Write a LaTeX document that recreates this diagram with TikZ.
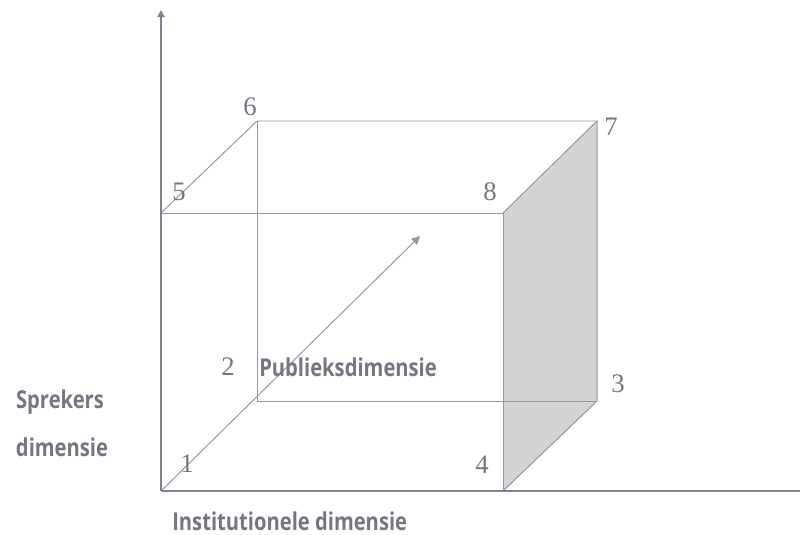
\documentclass[tikz,border=0pt]{standalone}
\usepackage{fontspec}
\setmainfont{Liberation Serif}
\newfontfamily\dimfont{Open Sans}[FakeStretch=0.82]
\usetikzlibrary{arrows.meta}
\definecolor{axisgray}{RGB}{128,128,142}
\definecolor{edgegray}{RGB}{150,150,162}
\definecolor{facegray}{RGB}{212,212,212}
\definecolor{textgray}{RGB}{118,118,130}

\begin{document}
\begin{tikzpicture}[x=0.025cm, y=-0.025cm]
    \useasboundingbox (0,0) rectangle (800,534);
    \tikzset{
        edge/.style={edgegray, line width=0.7pt},
        axis/.style={axisgray, line width=1.3pt},
        corner/.style={text=textgray, font=\fontsize{19}{19}\selectfont, inner sep=0pt, anchor=base},
        dimlabel/.style={text=textgray, font=\dimfont\bfseries\fontsize{17.5}{17.5}\selectfont, inner sep=0pt, anchor=base},
    }

    % corners of the block
    \foreach \k/\x/\y in {1/161/491, 2/257/401, 3/597/401, 4/503/491,
                          5/161/213, 6/257/121, 7/597/121, 8/503/213}
        \coordinate (c\k) at (\x,\y);
    \coordinate (ytop) at (161,10);
    \coordinate (xend) at (800,491);
    \coordinate (ptip) at (420,236);

    % shaded side
    \fill[facegray] (c8) -- (c7) -- (c3) -- (c4) -- cycle;

    \draw[edge] (c5) -- (c8) -- (c4);
    \draw[edge] (c5) -- (c6) -- (c7) -- (c8);
    \draw[edge] (c7) -- (c3) -- (c4);
    \draw[edge] (c6) -- (c2) -- (c3);
    \draw[edge, -{Triangle[width=6pt,length=6pt]}] (c1) -- (ptip);

    % axes
    \draw[axis, -{Triangle[width=5pt,length=5pt]}] (c1) -- (ytop);
    \draw[axis] (c1) -- (xend);

    \foreach \k/\x/\y in {1/187/472, 2/228/375, 3/618/392, 4/482/473,
                          5/179/200, 6/250/115, 7/611/135, 8/490/200}
        \node[corner] (n\k) at (\x,\y) {\k};

    \node[dimlabel] (spreker) at (60,408) {Sprekers};
    \node[dimlabel] (sprekdim) at (62,456) {dimensie};
    \node[dimlabel, anchor=base west] (publiek) at (259,376) {Publieksdimensie};
    \node[dimlabel, anchor=base west] (instit) at (172,530) {Institutionele dimensie};
\end{tikzpicture}
\end{document}
